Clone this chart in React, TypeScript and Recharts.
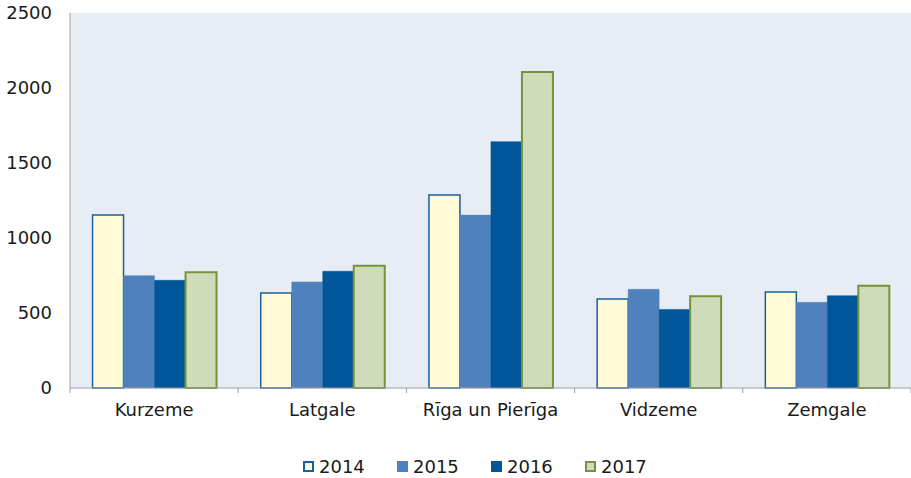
import { BarChart, Bar, XAxis, YAxis, CartesianGrid, Legend } from "recharts";

const regions = ["Kurzeme", "Latgale", "Rīga un Pierīga", "Vidzeme", "Zemgale"];
const y2014 = [1153, 633, 1287, 593, 640];
const y2015 = [749, 707, 1153, 658, 571];
const y2016 = [718, 778, 1642, 524, 615];
const y2017 = [771, 815, 2107, 611, 682];
const yTicks = [0, 500, 1000, 1500, 2000, 2500];

const data = regions.map((name, i) => ({
  name,
  y2014: y2014[i],
  y2015: y2015[i],
  y2016: y2016[i],
  y2017: y2017[i],
}));

const SERIES = [
  { key: "y2014", label: "2014", fill: "#fffbd6", stroke: "#1a5f9e", sw: 1.5 },
  { key: "y2015", label: "2015", fill: "#4f81bd", stroke: "#5b8ac4", sw: 0.5 },
  { key: "y2016", label: "2016", fill: "#005699", stroke: "#005699", sw: 0.5 },
  { key: "y2017", label: "2017", fill: "#cfdcb9", stroke: "#76923c", sw: 2 },
];

const FONT = "'DejaVu Sans', Verdana, sans-serif";
const FS = 18;
const W = 911;
const H = 478;
const PLOT_W = 841;
const BAND = PLOT_W / regions.length;

function CatTick(props: any) {
  const { x, y, payload, index } = props;
  const last = index === regions.length - 1;
  return (
    <g>
      <line x1={x - BAND / 2} y1={y - 8} x2={x - BAND / 2} y2={y - 3} stroke="#a0a0a0" />
      {last && <line x1={x + BAND / 2} y1={y - 8} x2={x + BAND / 2} y2={y - 3} stroke="#a0a0a0" />}
      <text x={x} y={y + 20} textAnchor="middle" fill="#1a1a1a" fontSize={FS} fontFamily={FONT}>
        {payload.value}
      </text>
    </g>
  );
}

function LegendBox() {
  return (
    <div style={{ height: 40, paddingTop: 18, paddingLeft: 303, boxSizing: "border-box", display: "flex", fontFamily: FONT, fontSize: FS, color: "#1a1a1a" }}>
      {SERIES.map((s) => (
        <div key={s.key} style={{ display: "flex", alignItems: "center", width: 94, height: 20 }}>
          <span style={{ width: 11, height: 11, boxSizing: "border-box", background: s.fill, border: `2px solid ${s.sw > 1 ? s.stroke : s.fill}`, marginRight: 5 }} />
          <span>{s.label}</span>
        </div>
      ))}
    </div>
  );
}

export default function App() {
  return (
    <div style={{ position: "absolute", left: 0, top: 0, width: W, height: H, background: "#fff" }}>
      <BarChart
        width={W}
        height={H}
        data={data}
        margin={{ top: 13, right: 0, bottom: 0, left: 0 }}
        barCategoryGap="13.4%"
        barGap={0}
      >
        <CartesianGrid horizontal={false} vertical={false} fill="#e8edf5" />
        <XAxis
          dataKey="name"
          height={50}
          tickLine={false}
          stroke="#a0a0a0"
          tick={<CatTick />}
          interval={0}
        />
        <YAxis
          width={70}
          domain={[0, 2500]}
          ticks={yTicks}
          tickSize={0}
          tickMargin={18}
          stroke="#a0a0a0"
          tick={{ fill: "#1a1a1a", fontSize: FS, fontFamily: FONT }}
        />
        <Legend verticalAlign="bottom" content={() => <LegendBox />} />
        {SERIES.map((s) => (
          <Bar
            key={s.key}
            dataKey={s.key}
            name={s.label}
            fill={s.fill}
            stroke={s.stroke}
            strokeWidth={s.sw}
            isAnimationActive={false}
          />
        ))}
      </BarChart>
    </div>
  );
}
